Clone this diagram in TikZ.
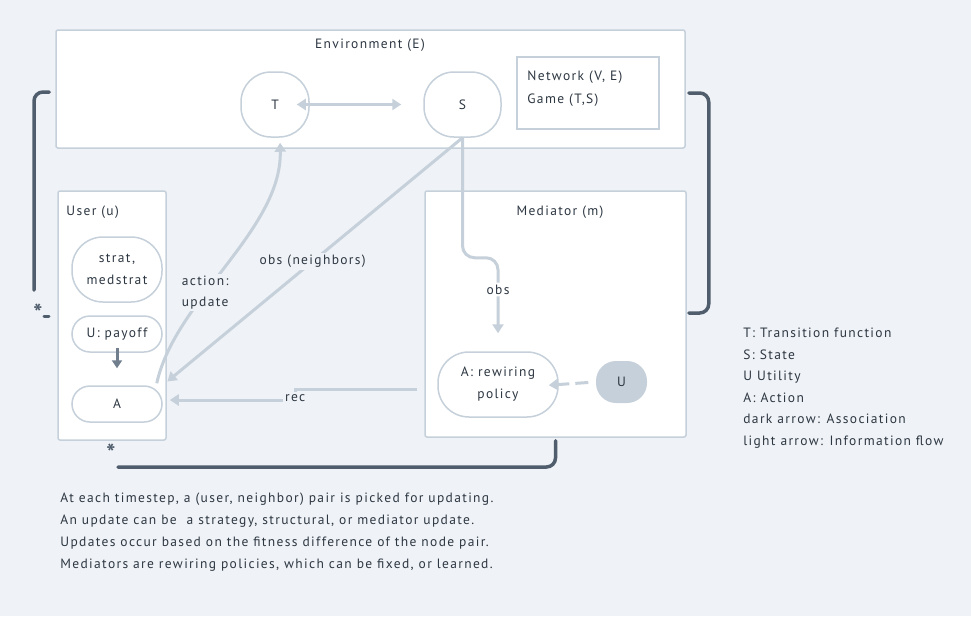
\documentclass[tikz,border=0pt]{standalone}
\usepackage{fontspec}
\setmainfont{PT Sans}[LetterSpace=10]
\usetikzlibrary{arrows.meta}

\definecolor{bgcol}{RGB}{239,242,246}
\definecolor{edgecol}{RGB}{197,208,218}
\definecolor{darkcol}{RGB}{79,93,108}
\definecolor{midcol}{RGB}{112,126,142}
\definecolor{txtcol}{RGB}{45,55,66}

\newcommand{\diafont}{\fontsize{13.5}{16}\selectfont}

\tikzset{every picture/.style={line width=0.75pt}}
\tikzset{
	box/.style={draw=edgecol, fill=white, line width=1.5pt, rounded corners=2pt, inner sep=0pt},
	pill/.style={draw=edgecol, fill=white, line width=1.5pt, text=txtcol, align=center, inner sep=0pt, font=\fontsize{13.5}{22}\selectfont},
	lbl/.style={text=txtcol, inner sep=2pt, font=\diafont},
	star/.style={text=darkcol, font=\fontsize{24}{24}\selectfont\bfseries, inner sep=0pt},
	flow/.style={draw=edgecol, line width=3pt, -{Triangle[length=9pt,width=11pt]}},
	assoc/.style={draw=darkcol, line width=3.5pt, line cap=round, rounded corners=9pt},
}

\begin{document}
\begin{tikzpicture}[x=1pt,y=-1pt]
	\fill[bgcol] (0,0) rectangle (971,616);
	\useasboundingbox (0,0) rectangle (971,616);

	% Environment
	\node[box, minimum width=629pt, minimum height=118pt] (env) at (370.5,89) {};
	\node[lbl] (envtitle) at (370,45) {Environment (E)};
	\node[pill, rounded corners=30pt, minimum width=68pt, minimum height=65pt] (T) at (275,104.5) {T};
	\node[pill, rounded corners=30pt, minimum width=77pt, minimum height=65pt] (S) at (462.5,104.5) {S};
	\node[box, rounded corners=0pt, line width=2pt, minimum width=142pt, minimum height=72pt] (net) at (588,93) {};
	\node[lbl, anchor=north west, align=left, inner sep=0pt, font=\fontsize{13.5}{23}\selectfont] (nettext) at (527,71) {Network (V, E)\\Game (T,S)};

	% User
	\node[box, minimum width=108pt, minimum height=249pt] (user) at (112,315.5) {};
	\node[lbl, anchor=west] (usertitle) at (64,212) {User (u)};
	\node[pill, rounded corners=31pt, minimum width=90pt, minimum height=65pt] (strat) at (117,269.5) {strat,\\medstrat};
	\node[pill, rounded corners=18pt, minimum width=90pt, minimum height=36pt] (payoff) at (117,334) {U: payoff};
	\node[pill, rounded corners=18pt, minimum width=90pt, minimum height=36pt] (A) at (117,404) {A};

	% Mediator
	\node[box, minimum width=261pt, minimum height=246pt] (med) at (555.5,314) {};
	\node[lbl] (medtitle) at (560,212) {Mediator (m)};
	\node[pill, rounded corners=31pt, minimum width=120pt, minimum height=65pt] (rw) at (498,384.5) {A: rewiring\\policy};
	\node[pill, fill=edgecol, draw=none, rounded corners=20pt, minimum width=51pt, minimum height=42pt] (U) at (621.5,382) {U};

	% Association brackets
	\coordinate (lend) at (34,290);
	\coordinate (uend) at (118,467);
	\draw[assoc] ([xshift=-6pt,yshift=-3pt]env.west) -| (lend);
	\draw[assoc] ([xshift=3pt,yshift=-4pt]env.east) -- ++(20,0) |- ([xshift=2pt,yshift=1pt]med.east);
	\draw[assoc] (uend) -| ([yshift=-3pt]med.south);
	\draw[darkcol, line width=3pt, line cap=round] (44,316) -- (49,316);
	\node[star] (lstar) at (38,313) {*};
	\node[star] (ustar) at (111,453) {*};

	% Connection
	\draw[flow, {Triangle[length=9pt,width=11pt]}-{Triangle[length=9pt,width=11pt]}] ([xshift=-13pt]T.east) -- ([xshift=-22pt]S.west);
	% Connection
	\draw[flow, shorten >=6pt] (S.south) -- node[lbl, fill=bgcol] {obs (neighbors)} (A.north east);
	% Connection
	\draw[flow, rounded corners=12pt, shorten >=18pt] (S.south) -- ++(0,120) -| node[lbl, fill=white, pos=0.67] {obs} (rw.north);
	% Connection
	\draw[flow, shorten >=5pt] ([xshift=-6pt,yshift=2pt]A.north east) .. controls (175,300) and (282,230) .. ([xshift=5pt]T.south)
		node[lbl, fill=bgcol, pos=0.38, align=center, font=\fontsize{13.5}{21}\selectfont] {action:\\update};
	% Connection
	\draw[flow, shorten <=7pt, shorten >=7pt] (med.west |- 0,389) -- ++(-129,0) node[lbl, fill=bgcol, yshift=-9pt] {rec} |- ([yshift=4pt]A.east);
	% Connection
	\draw[flow, dash pattern=on 13pt off 6pt, shorten <=7pt, shorten >=-10pt] (U.west) -- (rw.east);
	% Connection
	\draw[-{Triangle[length=8pt,width=10pt]}, draw=midcol, fill=midcol, line width=3pt, shorten <=-5pt, shorten >=17pt] (payoff.south) -- (A.north);

	% Legend
	\node[lbl, anchor=north west, align=left, inner sep=0pt, font=\fontsize{13.5}{21.6}\selectfont] (legend) at (743,327.5) {T: Transition function\\S: State\\U Utility\\A: Action\\dark arrow: Association\\light arrow: Information flow};
	% Notes
	\node[lbl, anchor=north west, align=left, inner sep=0pt, font=\fontsize{13.5}{22}\selectfont] (notes) at (60,492.5) {At each timestep, a (user, neighbor) pair is picked for updating.\\An update can be\ \ a strategy, structural, or mediator update.\\Updates occur based on the fitness difference of the node pair.\\Mediators are rewiring policies, which can be fixed, or learned.};
\end{tikzpicture}
\end{document}
